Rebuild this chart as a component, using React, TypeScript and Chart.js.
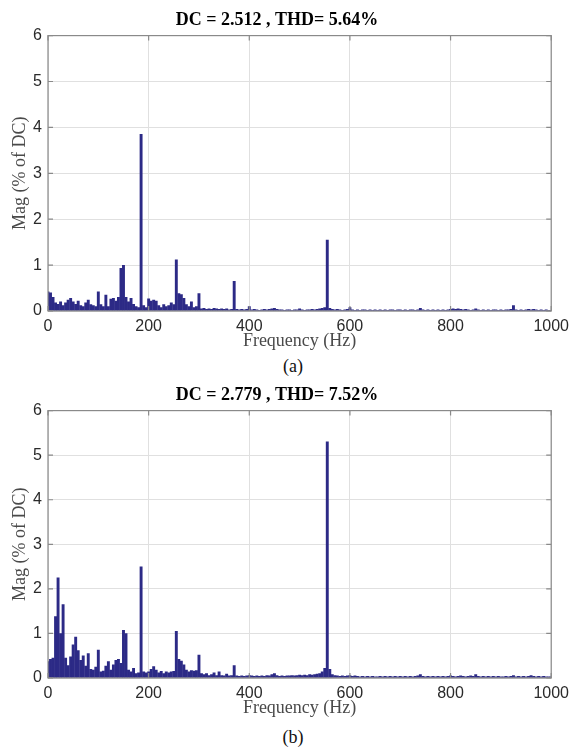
import React, { useEffect, useRef } from "react";
import { Chart, registerables } from "chart.js";

Chart.register(...registerables);

// ---------- data ----------
const FREQ_STEP_HZ = 5; // FFT bin width used for the bars
const X_TICKS = [0, 200, 400, 600, 800, 1000];
const Y_TICKS = [0, 1, 2, 3, 4, 5, 6];

const TITLE_A = "DC = 2.512 , THD= 5.64%";
const TITLE_B = "DC = 2.779 , THD= 7.52%";
const X_TITLE = "Frequency (Hz)";
const Y_TITLE = "Mag (% of DC)";
const CAPTION_A = "(a)";
const CAPTION_B = "(b)";

// (a) magnitudes, 0..400 Hz in 5 Hz bins
const MAG_A_LOW = [
  0.42, 0.40, 0.30, 0.18, 0.15, 0.20, 0.12, 0.18, 0.24, 0.28,
  0.20, 0.15, 0.22, 0.12, 0.10, 0.18, 0.24, 0.14, 0.12, 0.10,
  0.42, 0.14, 0.10, 0.35, 0.10, 0.26, 0.28, 0.22, 0.30, 0.93,
  1.00, 0.30, 0.20, 0.28, 0.15, 0.10, 0.08, 3.85, 0.12, 0.08,
  0.27, 0.22, 0.24, 0.22, 0.12, 0.08, 0.14, 0.10, 0.12, 0.18,
  0.14, 1.12, 0.38, 0.36, 0.28, 0.14, 0.10, 0.20, 0.08, 0.10,
  0.38, 0.05, 0.06, 0.04, 0.05, 0.04, 0.06, 0.05, 0.04, 0.05,
  0.04, 0.05, 0.03, 0.04, 0.65, 0.04, 0.03, 0.04, 0.03, 0.04,
  0.10,
];
// (a) magnitudes, 405..1000 Hz in 5 Hz bins
const MAG_A_HIGH = [
  0.03, 0.04, 0.03, 0.02, 0.03, 0.04, 0.03, 0.04, 0.05, 0.06,
  0.04, 0.03, 0.03, 0.02, 0.03, 0.03, 0.02, 0.03, 0.03, 0.05,
  0.03, 0.02, 0.03, 0.03, 0.04, 0.03, 0.04, 0.05, 0.06, 0.08,
  1.55, 0.06, 0.04, 0.03, 0.04, 0.03, 0.02, 0.03, 0.04, 0.08,
  0.03, 0.02, 0.03, 0.02, 0.03, 0.03, 0.02, 0.03, 0.02, 0.03,
  0.02, 0.03, 0.02, 0.03, 0.02, 0.03, 0.03, 0.02, 0.03, 0.03,
  0.02, 0.03, 0.02, 0.03, 0.03, 0.02, 0.03, 0.06, 0.03, 0.02,
  0.03, 0.02, 0.03, 0.02, 0.03, 0.02, 0.03, 0.02, 0.03, 0.04,
  0.05, 0.04, 0.05, 0.04, 0.03, 0.04, 0.03, 0.02, 0.03, 0.05,
  0.03, 0.02, 0.03, 0.02, 0.03, 0.02, 0.03, 0.03, 0.02, 0.03,
  0.02, 0.03, 0.03, 0.04, 0.12, 0.03, 0.02, 0.03, 0.02, 0.03,
  0.04, 0.03, 0.04, 0.03, 0.02, 0.03, 0.02, 0.03, 0.02, 0.02,
];

// (b) magnitudes, 0..400 Hz in 5 Hz bins
const MAG_B_LOW = [
  0.37, 0.42, 0.45, 1.38, 2.25, 1.00, 1.65, 0.45, 0.28, 0.48,
  0.75, 0.92, 0.62, 0.40, 0.50, 0.27, 0.55, 0.20, 0.18, 0.25,
  0.63, 0.14, 0.16, 0.27, 0.37, 0.18, 0.30, 0.40, 0.42, 0.33,
  1.07, 1.00, 0.18, 0.14, 0.22, 0.10, 0.12, 2.50, 0.14, 0.12,
  0.14, 0.20, 0.26, 0.18, 0.12, 0.15, 0.10, 0.14, 0.12, 0.14,
  0.15, 1.05, 0.42, 0.38, 0.30, 0.18, 0.14, 0.17, 0.16, 0.17,
  0.52, 0.10, 0.08, 0.10, 0.06, 0.08, 0.12, 0.06, 0.14, 0.06,
  0.05, 0.09, 0.05, 0.06, 0.28, 0.05, 0.04, 0.05, 0.04, 0.05,
  0.06,
];
// (b) magnitudes, 405..1000 Hz in 5 Hz bins
const MAG_B_HIGH = [
  0.05, 0.04, 0.05, 0.04, 0.05, 0.04, 0.06, 0.05, 0.08, 0.10,
  0.06, 0.04, 0.05, 0.04, 0.05, 0.05, 0.06, 0.05, 0.06, 0.07,
  0.06, 0.07, 0.06, 0.08, 0.07, 0.08, 0.09, 0.10, 0.14, 0.22,
  5.30, 0.20, 0.08, 0.06, 0.05, 0.04, 0.05, 0.04, 0.05, 0.06,
  0.04, 0.05, 0.04, 0.03, 0.04, 0.03, 0.04, 0.03, 0.04, 0.03,
  0.03, 0.04, 0.03, 0.04, 0.03, 0.04, 0.03, 0.04, 0.03, 0.04,
  0.03, 0.04, 0.03, 0.04, 0.03, 0.04, 0.05, 0.08, 0.04, 0.03,
  0.04, 0.03, 0.04, 0.03, 0.04, 0.03, 0.04, 0.03, 0.04, 0.05,
  0.04, 0.03, 0.04, 0.05, 0.04, 0.03, 0.04, 0.05, 0.04, 0.08,
  0.04, 0.03, 0.04, 0.03, 0.04, 0.03, 0.04, 0.03, 0.04, 0.03,
  0.03, 0.04, 0.03, 0.04, 0.06, 0.03, 0.04, 0.03, 0.04, 0.03,
  0.04, 0.06, 0.04, 0.03, 0.04, 0.03, 0.04, 0.03, 0.03, 0.03,
];

const MAG_A = [...MAG_A_LOW, ...MAG_A_HIGH];
const MAG_B = [...MAG_B_LOW, ...MAG_B_HIGH];

// ---------- styles ----------
const BAR_COLOR = "rgb(44,42,134)";
const GRID_COLOR = "#e0e0e0";
const FRAME_COLOR = "#8a8a8a";
const TICK_TEXT = "#2a2a2a";
const AXIS_TITLE_COLOR = "#4a4a4a";
const SANS = "'Liberation Sans', Arial, sans-serif";
const SERIF = "'Liberation Serif', 'Times New Roman', serif";

const framePlugin = {
  id: "matlabFrame",
  afterDatasetsDraw(chart: any) {
    const { ctx, chartArea, scales } = chart;
    const { left, right, top, bottom } = chartArea;
    const L = 5;
    ctx.save();
    ctx.strokeStyle = FRAME_COLOR;
    ctx.lineWidth = 1.2;
    ctx.strokeRect(left, top, right - left, bottom - top);
    ctx.beginPath();
    X_TICKS.forEach((v) => {
      const px = scales.x.getPixelForValue(v);
      ctx.moveTo(px, bottom);
      ctx.lineTo(px, bottom - L);
      ctx.moveTo(px, top);
      ctx.lineTo(px, top + L);
    });
    Y_TICKS.forEach((v) => {
      const py = scales.y.getPixelForValue(v);
      ctx.moveTo(left, py);
      ctx.lineTo(left + L, py);
      ctx.moveTo(right, py);
      ctx.lineTo(right - L, py);
    });
    ctx.stroke();
    ctx.restore();
  },
};

type SpectrumProps = {
  title: string;
  values: number[];
  top: number;
  height: number;
};

function Spectrum({ title, values, top, height }: SpectrumProps) {
  const ref = useRef<HTMLCanvasElement | null>(null);
  useEffect(() => {
    if (!ref.current) return;
    const points = values.map((v, i) => ({ x: i * FREQ_STEP_HZ, y: v }));
    const chart = new Chart(ref.current, {
      type: "bar",
      data: {
        datasets: [
          {
            data: points as any,
            backgroundColor: BAR_COLOR,
            borderWidth: 0,
            barPercentage: 1,
            categoryPercentage: 1,
            inflateAmount: 0.2,
          } as any,
        ],
      },
      options: {
        animation: false,
        responsive: false,
        maintainAspectRatio: false,
        layout: { padding: { left: 0, right: 21, top: 0, bottom: 0 } },
        plugins: {
          legend: { display: false },
          tooltip: { enabled: false },
          title: {
            display: true,
            text: title,
            color: "#000",
            font: { family: SERIF, size: 18, weight: "bold" },
            padding: { top: 10, bottom: 4 },
          },
        },
        scales: {
          x: {
            type: "linear",
            min: 0,
            max: 1000,
            offset: false,
            afterBuildTicks: (s: any) => {
              s.ticks = X_TICKS.map((v) => ({ value: v }));
            },
            afterFit: (s: any) => {
              s.height = 41;
            },
            grid: { color: GRID_COLOR, drawTicks: false, offset: false },
            border: { display: false },
            ticks: {
              color: TICK_TEXT,
              font: { family: SANS, size: 16 },
              padding: 6,
              maxRotation: 0,
              autoSkip: false,
              callback: (v: any) => String(v),
            },
            title: {
              display: true,
              text: X_TITLE,
              color: AXIS_TITLE_COLOR,
              font: { family: SERIF, size: 18 },
              padding: { top: 0, bottom: 0 },
            },
          },
          y: {
            type: "linear",
            min: 0,
            max: 6,
            afterBuildTicks: (s: any) => {
              s.ticks = Y_TICKS.map((v) => ({ value: v }));
            },
            afterFit: (s: any) => {
              s.width = 48;
            },
            grid: { color: GRID_COLOR, drawTicks: false },
            border: { display: false },
            ticks: {
              color: TICK_TEXT,
              font: { family: SANS, size: 16 },
              padding: 6,
              callback: (v: any) => String(v),
            },
            title: {
              display: true,
              text: Y_TITLE,
              color: AXIS_TITLE_COLOR,
              font: { family: SERIF, size: 18 },
              padding: { top: 9, bottom: 0 },
            },
          },
        },
      } as any,
      plugins: [framePlugin],
    });
    return () => chart.destroy();
  }, [title, values]);

  return (
    <canvas
      ref={ref}
      width={575}
      height={height}
      style={{ position: "absolute", left: 0, top, width: 575, height, display: "block" }}
    />
  );
}

const captionStyle = (top: number): React.CSSProperties => ({
  position: "absolute",
  left: 243,
  width: 100,
  top,
  textAlign: "center",
  fontFamily: SERIF,
  fontSize: 18,
  lineHeight: "20px",
  color: "#111",
});

export default function App() {
  return (
    <div
      style={{
        position: "absolute",
        left: 0,
        top: 0,
        width: 575,
        height: 749,
        background: "#fff",
        overflow: "hidden",
      }}
    >
      <Spectrum title={TITLE_A} values={MAG_A} top={0} height={352} />
      <div style={captionStyle(356)}>{CAPTION_A}</div>
      <Spectrum title={TITLE_B} values={MAG_B} top={375} height={344} />
      <div style={captionStyle(727)}>{CAPTION_B}</div>
    </div>
  );
}
